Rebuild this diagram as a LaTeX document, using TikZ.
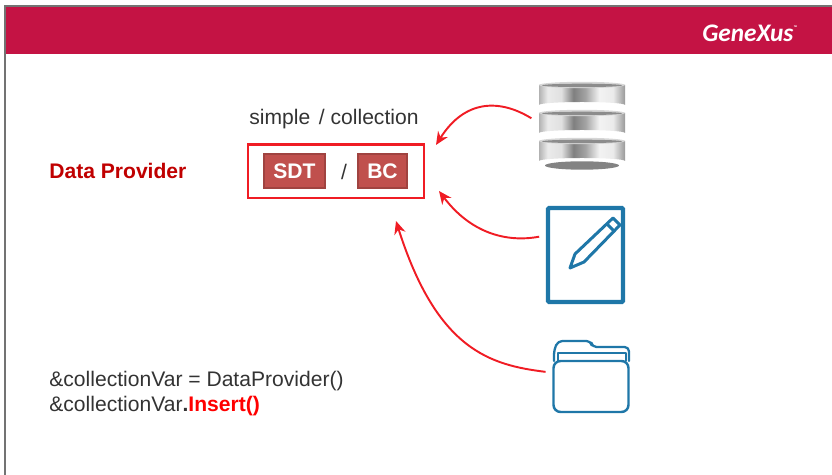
\documentclass[tikz,border=0pt,12pt]{standalone}
\usepackage{fontspec}
\setmainfont{Liberation Sans}
\newfontfamily\logofont{Carlito}
\usetikzlibrary{arrows.meta}
\definecolor{headerred}{HTML}{C41344}
\definecolor{framered}{HTML}{F01C24}
\definecolor{tagred}{HTML}{C0504D}
\definecolor{tagedge}{HTML}{A04340}
\definecolor{titlered}{HTML}{C00000}
\definecolor{icon}{HTML}{1F77A8}
\definecolor{textgray}{HTML}{333333}
\pgfdeclarehorizontalshading{discmetal}{100bp}{
  color(0bp)=(black!30); color(25bp)=(black!30); color(30bp)=(black!8); color(38bp)=(black!12);
  color(45bp)=(black!50); color(52bp)=(black!36); color(60bp)=(black!5); color(68bp)=(black!8);
  color(75bp)=(black!40); color(100bp)=(black!40)}
\tikzset{
  flow/.style={draw=framered, line width=1.1pt, -{Stealth[length=2.6mm,width=2.3mm]}},
  tag/.style={draw=tagedge, fill=tagred, text=white, font=\bfseries, line width=0.6pt, inner sep=0pt, outer sep=0pt},
  body/.style={text=textgray, anchor=base west, inner sep=0pt},
  iconline/.style={draw=icon, line join=round, line cap=round}
}
\begin{document}
\begin{tikzpicture}[x=0.02cm, y=-0.02cm]
  \useasboundingbox (0,0) rectangle (832,475);
  % header
  \fill[black!55] (4,5) rectangle (832,7);
  \fill[black!55] (4,5) rectangle (6,475);
  \fill[headerred] (6,7) rectangle (832,54);
  \node[text=white, font=\logofont\itshape\bfseries\fontsize{14.4}{17}\selectfont, anchor=base west, inner sep=0pt] (logo) at (702,42) {GeneXus\raisebox{1.05ex}{\fontsize{3}{3}\selectfont\texttrademark}};
  % left side
  \node[body, text=titlered, font=\bfseries] (title) at (49,179) {Data Provider};
  \node[body] (kinds) at (249,124.5) {simple\hspace{1.6pt} / collection};
  \node[draw=framered, line width=1.15pt, minimum width=3.52cm, minimum height=1.08cm, inner sep=0pt, outer sep=0pt] (frame) at (336,171.5) {};
  \node[tag, minimum width=1.22cm, minimum height=0.68cm] (sdt) at (294.5,171) {SDT};
  \node[text=textgray, inner sep=0pt] (slash) at (344,172) {/};
  \node[tag, minimum width=0.98cm, minimum height=0.68cm] (bc) at (382.5,171) {BC};
  \node[body] (callline) at (49,386.5) {\&collectionVar = DataProvider()};
  \node[body] (insertline) at (49,411.5) {\&collectionVar\textbf{.}\textcolor{red}{\textbf{Insert()}}};
  % database
  \node[minimum width=1.72cm, minimum height=1.7cm, inner sep=0pt, outer sep=0pt] (db) at (582,124.5) {};
  \fill[black!65, opacity=0.75] (582,165.5) ellipse (37 and 4.2);
  \foreach \y in {0,28,56} {
    \shade[shading=discmetal] (539,85+\y) -- (539,105+\y) arc[start angle=180, end angle=360, x radius=43, y radius=3] -- (625,85+\y) -- cycle;
    \fill[black!16] (582,85+\y) ellipse (43 and 3.2);
    \fill[black!45] (582,85.4+\y) ellipse (40 and 1.7);
  }
  % sheet with pencil
  \node[draw=icon, line width=2.3pt, rounded corners=0.5pt, minimum width=1.5cm, minimum height=1.88cm, inner sep=0pt, outer sep=0pt] (sheet) at (585.5,255) {};
  \draw[iconline, line width=1.7pt] (570,268) -- (575,254) -- (613,218) -- (620,225) -- (584,262) -- cycle;
  \draw[iconline, line width=1.7pt] (607,224) -- (614,231);
  % folder
  \node[draw=icon, line width=1.4pt, rounded corners=4pt, minimum width=1.5cm, minimum height=1.02cm, inner sep=0pt, outer sep=0pt] (folder) at (591,386.5) {};
  \draw[iconline, line width=1.3pt, rounded corners=2.5pt] (554,361) -- (554,350) -- (558,341) -- (591,341) -- (592,347) -- (629,347) -- (629,361);
  \draw[iconline, line width=1.1pt] (558,361) -- (558,353) -- (626,353) -- (626,361);
  % arrows
  \coordinate (tipdb) at (436,145);
  \coordinate (tipsheet) at (439,191);
  \coordinate (tipfolder) at (396,221);
  \draw[flow, shorten <=0.18cm] (db.178) .. controls (500,99) and (465,99) .. (tipdb);
  \draw[flow, shorten <=0.18cm] (sheet.152) .. controls (505,243) and (470,232) .. (tipsheet);
  \draw[flow, shorten <=0.16cm] (folder.160) .. controls (490,365) and (437,350) .. (tipfolder);
\end{tikzpicture}
\end{document}
